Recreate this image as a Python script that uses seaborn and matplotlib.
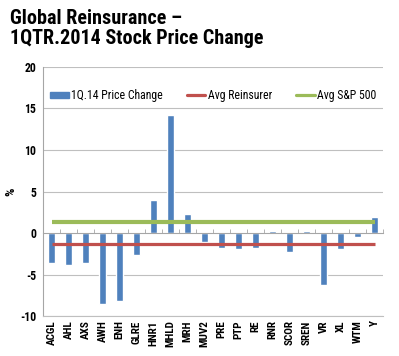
import numpy as np
import matplotlib
matplotlib.use("Agg")
import matplotlib.pyplot as plt
from matplotlib import font_manager
import seaborn as sns
from matplotlib.lines import Line2D
from matplotlib.patches import Patch

tickers = ["ACGL", "AHL", "AXS", "AWH", "ENH", "GLRE", "HNR1", "MHLD", "MRH", "MUV2",
           "PRE", "PTP", "RE", "RNR", "SCOR", "SREN", "VR", "XL", "WTM", "Y"]
price_change = [-3.6, -3.9, -3.6, -8.5, -8.15, -2.7, 4.0, 14.2, 2.25, -1.05,
                -1.85, -1.9, -1.8, 0.25, -2.3, 0.3, -6.25, -1.9, -0.5, 1.9]
avg_reinsurer = -1.33
avg_sp500 = 1.28

blue = "#4F81BD"
red = "#C0504D"
green = "#9BBB59"
grid = "#BFBFBF"


def pick_font(names):
    for name in names:
        try:
            font_manager.findfont(font_manager.FontProperties(family=name),
                                  fallback_to_default=False)
            return name
        except Exception:
            pass
    return "DejaVu Sans"


font = pick_font(["Liberation Sans Narrow", "Roboto Condensed", "DejaVu Sans Condensed",
                  "Arial Narrow", "Liberation Sans"])
narrow = font in ("Liberation Sans Narrow", "Roboto Condensed", "DejaVu Sans Condensed", "Arial Narrow")

sns.set_style("white")
plt.rcParams["font.family"] = [font, "DejaVu Sans"]
plt.rcParams["text.color"] = "black"
plt.rcParams["xtick.color"] = "black"
plt.rcParams["ytick.color"] = "black"
plt.rcParams["axes.labelcolor"] = "black"

fig = plt.figure(figsize=(3.99, 3.56), dpi=100)
ax = fig.add_axes([0.108, 0.112, 0.852, 0.70])

sns.barplot(x=tickers, y=price_change, color=blue, width=0.4, saturation=1, ax=ax)

pos = np.arange(len(tickers))
ax.plot(pos, [avg_reinsurer] * len(tickers), color=red, lw=2.3, solid_capstyle="butt")
ax.plot(pos, [avg_sp500] * len(tickers), color=green, lw=3.0, solid_capstyle="butt")

# category axis crossing at zero (set first: moving a spine resets the ticks)
ax.spines["top"].set_position(("data", 0))
ax.spines["top"].set_color("#A6A6A6")
ax.spines["bottom"].set_color(grid)
ax.spines["left"].set_color("#A6A6A6")
ax.spines["right"].set_visible(False)

ax.set_xlim(-0.5, len(tickers) - 0.5)
ax.set_ylim(-10, 20)
ax.set_yticks([-10, -5, 0, 5, 10, 15, 20])
ax.set_yticklabels(["-10", "-5", "0", "5", "10", "15", "20"], fontsize=8.5, fontweight="bold")
for v in [-10, -5, 5, 10, 15, 20]:
    ax.axhline(v, color=grid, lw=0.8, zorder=0)

lab_size = 8 if narrow else 6.5
ax.set_xticks(pos)
ax.set_xticklabels(tickers, rotation=90, fontsize=lab_size, fontweight="bold")
ax.tick_params(axis="x", which="major", length=0, pad=3, top=False, bottom=True)
ax.set_xticks(np.arange(-0.5, len(tickers), 1), minor=True)
ax.tick_params(axis="x", which="minor", top=True, bottom=False, direction="out",
               length=3, color="#A6A6A6", labeltop=False, labelbottom=False)
ax.tick_params(axis="y", length=3, color=grid, pad=2)

ax.set_ylabel("%", fontsize=9.5, fontweight="bold")
ax.yaxis.set_label_coords(-0.075, 0.5)

handles = [Patch(color=blue), Line2D([], [], color=red, lw=2.3), Line2D([], [], color=green, lw=2.3)]
ax.legend(handles, ["1Q.14 Price Change", "Avg Reinsurer", "Avg S&P 500"],
          loc="center", bbox_to_anchor=(0.5, 0.885), ncol=3, frameon=False,
          fontsize=8.5 if narrow else 7, handlelength=1.6, handletextpad=0.2,
          columnspacing=2.0 if narrow else 1.2, handleheight=0.45)

fig.text(0.025, 0.975, "Global Reinsurance \u2013\n1QTR.2014 Stock Price Change",
         ha="left", va="top", fontsize=14.5 if narrow else 13.5, fontweight="bold",
         linespacing=1.1)

fig.savefig("out.png", dpi=100)
